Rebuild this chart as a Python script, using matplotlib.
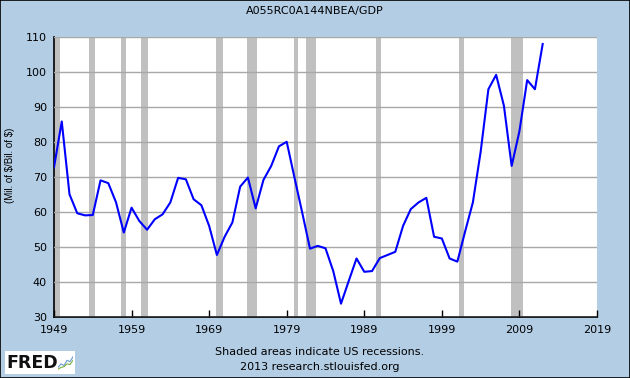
import numpy as np
import matplotlib
matplotlib.use("Agg")
import matplotlib.pyplot as plt
from matplotlib.patches import Rectangle

# annual values (A055RC0A144NBEA / GDP)
years = list(range(1949, 2013))
ratio = [72.7, 85.8, 65.0, 59.6, 59.0, 59.1, 69.0, 68.2, 62.7, 54.1,
         61.2, 57.4, 54.9, 57.9, 59.3, 62.7, 69.7, 69.3, 63.6, 61.9,
         56.0, 47.7, 52.9, 57.0, 67.2, 69.8, 61.0, 69.1, 73.1, 78.7,
         80.0, 69.8, 59.8, 49.5, 50.3, 49.6, 43.1, 33.8, 40.3, 46.7,
         42.9, 43.1, 46.8, 47.7, 48.6, 56.0, 60.8, 62.7, 64.0, 52.9,
         52.4, 46.7, 45.8, 54.4, 62.7, 77.1, 95.0, 99.1, 90.3, 73.1,
         83.0, 97.6, 95.0, 107.9]

# NBER recessions (start, end) as decimal years
rec_start = [1948.83, 1953.50, 1957.58, 1960.25, 1969.92, 1973.83,
             1980.00, 1981.50, 1990.50, 2001.17, 2007.92]
rec_end = [1949.75, 1954.33, 1958.25, 1961.08, 1970.83, 1975.17,
           1980.50, 1982.83, 1991.17, 2001.83, 2009.42]

x_ticks = list(range(1949, 2020, 10))
y_ticks = list(range(30, 111, 10))

bg = "#B3CDE5"
fig = plt.figure(figsize=(6.3, 3.78), dpi=100, facecolor=bg)
fig.patches.append(Rectangle((0, 0), 1, 1, transform=fig.transFigure,
                             fill=False, edgecolor="black", linewidth=1.2))

ax = fig.add_axes([0.0857, 0.1614, 0.8619, 0.7416])
ax.set_facecolor("white")

for s, e in zip(rec_start, rec_end):
    ax.axvspan(max(s, 1949), e, color="#C0C0C0", linewidth=0, zorder=1)

ax.set_yticks(y_ticks)
ax.yaxis.grid(True, color="#A8A8A8", linewidth=1, zorder=2)
ax.set_axisbelow(False)

ax.plot(years, ratio, color="#0000FF", linewidth=1.5, zorder=3)

ax.set_xlim(1949, 2019)
ax.set_ylim(30, 110)
ax.set_xticks(x_ticks)
ax.tick_params(axis="x", direction="in", length=5, width=1, labelsize=8, pad=6)
ax.tick_params(axis="y", length=0, labelsize=8, pad=5)

for side in ["top", "right"]:
    ax.spines[side].set_visible(False)
for side in ["left", "bottom"]:
    ax.spines[side].set_color("black")
    ax.spines[side].set_linewidth(1.2)

ax.set_ylabel(r"(Mil. of \$/Bil. of \$)", fontsize=7, family="Liberation Sans")
ax.yaxis.set_label_coords(-0.072, 0.54)

fig.text(0.5, 0.972, "A055RC0A144NBEA/GDP", ha="center", va="center", fontsize=8)
fig.text(0.508, 0.068, "Shaded areas indicate US recessions.", ha="center", va="center", fontsize=8)
fig.text(0.508, 0.03, "2013 research.stlouisfed.org", ha="center", va="center", fontsize=8)

# FRED logo
fig.patches.append(Rectangle((5 / 630, 1 - 374 / 378), 70 / 630, 23 / 378,
                             transform=fig.transFigure, facecolor="white", edgecolor="none"))
fig.text(6 / 630, 1 - 363 / 378, "FRED", ha="left", va="center", fontsize=12.5,
         fontweight="bold", color="#111111", family="DejaVu Sans")
logo = fig.add_axes([58 / 630, 1 - 371 / 378, 15 / 630, 15 / 378], zorder=5)
logo.patch.set_alpha(0)
logo.plot([0, 1, 2, 3, 4, 5], [1, 2, 1.5, 3, 2.6, 4], color="#6A9BD0", linewidth=0.8)
logo.plot([0, 1, 2, 3, 4, 5], [0.5, 1, 1.2, 2, 1.8, 3], color="#7CB342", linewidth=0.8)
logo.set_xlim(0, 5)
logo.set_ylim(0, 4.2)
logo.axis("off")

fig.savefig("out.png", dpi=100, facecolor=bg)
